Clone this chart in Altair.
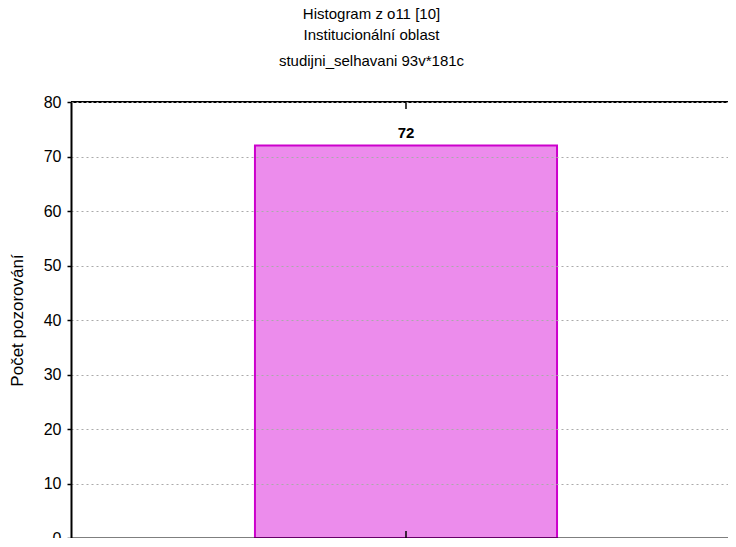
import altair as alt
import pandas as pd

# histogram bin (value 10) and its count
bin_start = [9.5]
bin_end = [10.5]
bin_mid = [10.0]
counts = [72]
labels = ["72"]
y_ticks = [0, 10, 20, 30, 40, 50, 60, 70, 80]

df = pd.DataFrame({"start": bin_start, "end": bin_end, "mid": bin_mid,
                   "count": counts, "label": labels})

W, H = 657, 436

xscale = alt.Scale(domain=[8.891, 11.066], nice=False, zero=False)
yscale = alt.Scale(domain=[0, 80], nice=False)

xaxis = alt.Axis(title=None, labels=False, ticks=False, grid=False, domain=True,
                 domainColor="black", domainWidth=2, zindex=1)
yaxis = alt.Axis(title="Počet pozorování", values=y_ticks,
                 labelFont="Liberation Sans", labelFontSize=16, labelColor="black",
                 labelPadding=6, tickSize=4, tickColor="black", tickWidth=1.5,
                 domainColor="black", domainWidth=2, zindex=1,
                 grid=True, gridColor="#aaaaaa", gridDash=[2, 3], gridWidth=1,
                 titleFont="Liberation Sans", titleFontSize=17, titleFontWeight="normal",
                 titleColor="black", titleX=-54, titleY=H / 2, titleAngle=-90,
                 titleAlign="center", titleBaseline="middle")

base = alt.Chart(df)

bars = base.mark_rect(fill="#ec8cec", stroke="#cc00cc", strokeWidth=2).encode(
    x=alt.X("start:Q", scale=xscale, axis=xaxis),
    x2="end:Q",
    y=alt.Y("count:Q", scale=yscale, axis=yaxis),
    y2=alt.Y2(datum=0),
)

text = base.mark_text(font="Liberation Sans", fontSize=15, fontWeight="bold",
                      color="black", dy=-13, baseline="middle").encode(
    x=alt.X("mid:Q", scale=xscale, axis=xaxis),
    y=alt.Y("count:Q", scale=yscale, axis=yaxis),
    text="label:N",
)

tick_bottom = base.mark_rule(color="black", strokeWidth=1.5).encode(
    x=alt.X("mid:Q", scale=xscale, axis=xaxis),
    y=alt.value(H - 7), y2=alt.value(H),
)
tick_top = base.mark_rule(color="black", strokeWidth=1.5).encode(
    x=alt.X("mid:Q", scale=xscale, axis=xaxis),
    y=alt.value(0), y2=alt.value(7),
)
top_frame = base.mark_rule(color="black", strokeWidth=2).encode(
    x=alt.value(0), x2=alt.value(W),
    y=alt.Y(datum=80, scale=yscale, axis=yaxis),
)

chart = alt.layer(bars, text, tick_bottom, tick_top, top_frame).properties(
    width=W, height=H,
    autosize=alt.AutoSizeParams(type="none"),
    padding={"left": 63, "top": 94, "right": 0, "bottom": 0},
    background="white",
    title=alt.TitleParams(
        text=["Histogram z o11 [10]", "Institucionální oblast"],
        subtitle="studijni_selhavani 93v*181c",
        font="Liberation Sans", fontSize=15, fontWeight="normal", color="black",
        subtitleFont="Liberation Sans", subtitleFontSize=15, subtitleColor="black",
        lineHeight=21, subtitlePadding=11, anchor="middle", frame="group",
        dx=-28, offset=25,
    ),
).configure_view(stroke=None)

chart.save("out.html", embed_options={"renderer": "svg", "actions": False})
